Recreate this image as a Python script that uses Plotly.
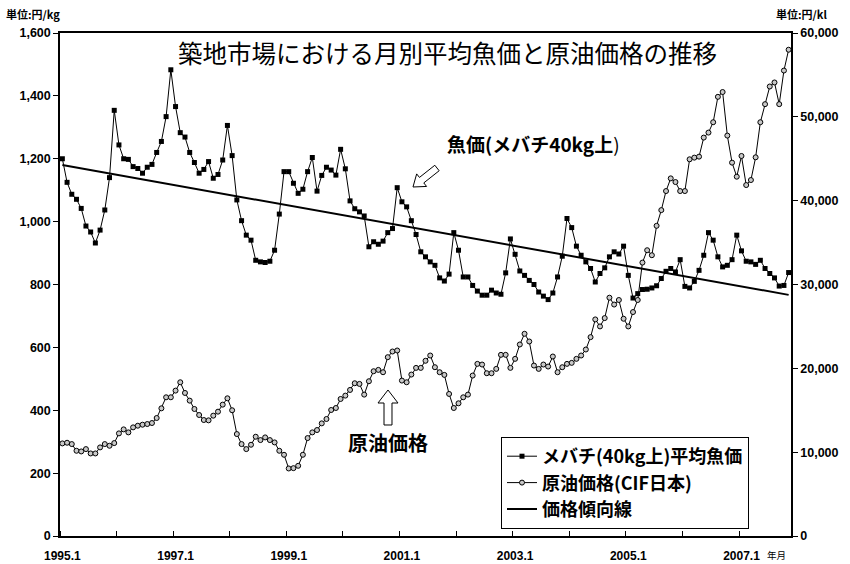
import math
import plotly.graph_objects as go

# ---------------- data ----------------
months = [f"{y}.{m}" for y in range(1995, 2008) for m in range(1, 13)][:155]  # 1995.1 .. 2007.11

fish_price = [
    1200, 1125, 1087, 1071, 1042, 986, 967, 932, 973, 1037, 1140, 1354,      # 1995
    1244, 1200, 1198, 1175, 1169, 1154, 1173, 1182, 1220, 1255, 1334, 1483,   # 1996
    1366, 1283, 1269, 1220, 1188, 1154, 1166, 1191, 1138, 1150, 1196, 1306,   # 1997
    1210, 1069, 1003, 957, 941, 877, 872, 870, 874, 909, 1024, 1159,          # 1998
    1159, 1122, 1090, 1103, 1159, 1204, 1097, 1147, 1173, 1164, 1148, 1230,   # 1999
    1168, 1066, 1041, 1031, 1018, 920, 936, 928, 938, 965, 978, 1108,         # 2000
    1063, 1047, 1003, 959, 904, 888, 872, 861, 821, 811, 833, 965,            # 2001
    909, 824, 824, 797, 779, 766, 766, 782, 773, 769, 837, 945,               # 2002
    896, 843, 829, 813, 800, 776, 763, 752, 773, 824, 890, 1010,              # 2003
    981, 922, 893, 872, 851, 808, 835, 853, 888, 904, 897, 922,               # 2004
    829, 757, 771, 784, 785, 789, 796, 819, 842, 851, 840, 879,               # 2005
    794, 789, 810, 845, 893, 965, 941, 888, 856, 861, 879, 957,               # 2006
    907, 874, 872, 864, 877, 851, 835, 821, 795, 797, 838,                    # 2007
]

oil_price = [
    11044, 11124, 10964, 10167, 10087, 10366, 9848, 9848, 10566, 10964, 10765, 11084,
    12240, 12718, 12360, 12958, 13157, 13277, 13356, 13476, 14074, 15230, 16546, 16546,
    17343, 18340, 17064, 16147, 15151, 14433, 13835, 13795, 14353, 14832, 15669, 16426,
    15000, 12160, 10964, 10366, 10884, 11841, 11443, 11762, 11443, 11164, 10167, 9689,
    8054, 8094, 8373, 9689, 11682, 12360, 12639, 13436, 13955, 15031, 15270, 16347,
    16745, 17423, 18220, 18141, 16865, 18460, 19656, 19815, 19536, 21330, 22008, 22128,
    18539, 18340, 19257, 20054, 20054, 20900, 21530, 20134, 19536, 19217, 16945, 15270,
    15828, 16546, 16865, 19138, 20533, 20453, 19417, 19417, 19935, 21610, 21610, 20055,
    21131, 22845, 24121, 23204, 20333, 19935, 20453, 20214, 21410, 19536, 20134, 20533,
    20652, 21131, 21530, 22247, 23722, 25835, 24999, 25995, 28427, 27610, 28150, 25915,
    24999, 26712, 28150, 32614, 34089, 33491, 37000, 38873, 41146, 42661, 42222, 41146,
    41146, 44933, 45132, 45252, 47524, 48122, 49358, 52385, 52960, 47764, 44535, 42860,
    45332, 41863, 42461, 45172, 49358, 51511, 53620, 54100, 51511, 55520, 58006,
]

trend_months = ["1995.1", "2007.11"]
trend_values = [1180, 767]

tick_labels = ["1995.1", "1997.1", "1999.1", "2001.1", "2003.1", "2005.1", "2007.1"]

# ---------------- figure ----------------
idx = list(range(len(months)))
trend_idx = [months.index(m) for m in trend_months]
tick_idx = [months.index(t) for t in tick_labels]
year_bounds = [i - 0.5 for i in range(0, len(months), 12)]

W, H = 850, 564
L, R, T, B = 60, 59, 33, 28
PW, PH = W - L - R, H - T - B

FONT = "Liberation Sans, Arial, Noto Sans CJK JP, sans-serif"
JFONT = "Noto Sans CJK JP, Liberation Sans, sans-serif"

fig = go.Figure()
fig.add_trace(go.Scatter(
    x=idx, y=fish_price, mode="lines+markers", name="メバチ(40kg上)平均魚価",
    line=dict(color="black", width=1),
    marker=dict(symbol="square", size=5, color="black"),
))
fig.add_trace(go.Scatter(
    x=idx, y=oil_price, yaxis="y2", mode="lines+markers", name="原油価格(CIF日本)",
    line=dict(color="black", width=1),
    marker=dict(symbol="circle", size=5, color="#c8c8c8", line=dict(color="black", width=1)),
))
fig.add_trace(go.Scatter(
    x=trend_idx, y=trend_values, mode="lines", name="価格傾向線",
    line=dict(color="black", width=2),
))


def P(x, y):
    return (x - L) / PW, (H - B - y) / PH


def path(pts):
    s = ""
    for k, (x, y) in enumerate(pts):
        px, py = P(x, y)
        s += ("M" if k == 0 else "L") + f"{px:.5f},{py:.5f} "
    return s + "Z"


# hollow arrow pointing down-left (fish label)
tx, ty = 437, 168
ex, ey = 413, 187
ln = math.hypot(ex - tx, ey - ty)
ux, uy = (ex - tx) / ln, (ey - ty) / ln
nx, ny = -uy, ux
bx, by = ex - 11 * ux, ey - 11 * uy
sw, hw = 3.5, 8
arrow1 = [
    (tx + sw * nx, ty + sw * ny), (bx + sw * nx, by + sw * ny), (bx + hw * nx, by + hw * ny),
    (ex, ey), (bx - hw * nx, by - hw * ny), (bx - sw * nx, by - sw * ny), (tx - sw * nx, ty - sw * ny),
]
arrow2 = [(384, 425), (384, 403), (378, 403), (388, 390), (398, 403), (392, 403), (392, 425)]

shapes = [
    dict(type="path", xref="paper", yref="paper", path=path(arrow1),
         fillcolor="white", line=dict(color="black", width=1)),
    dict(type="path", xref="paper", yref="paper", path=path(arrow2),
         fillcolor="white", line=dict(color="black", width=1)),
]

annotations = [
    dict(text="築地市場における月別平均魚価と原油価格の推移", x=P(447, 0)[0], y=P(0, 52)[1],
         xref="paper", yref="paper", showarrow=False, xanchor="center", yanchor="middle",
         font=dict(family=JFONT, size=24.5, color="black")),
    dict(text="<b>魚価(メバチ40kg上</b>)", x=P(533, 0)[0], y=P(0, 143)[1],
         xref="paper", yref="paper", showarrow=False, xanchor="center", yanchor="middle",
         font=dict(family=JFONT, size=19, color="black")),
    dict(text="<b>原油価格</b>", x=P(388, 0)[0], y=P(0, 442)[1],
         xref="paper", yref="paper", showarrow=False, xanchor="center", yanchor="middle",
         font=dict(family=JFONT, size=20, color="black")),
    dict(text="<b>単位:円/kg</b>", x=P(4, 0)[0], y=P(0, 14)[1],
         xref="paper", yref="paper", showarrow=False, xanchor="left", yanchor="middle",
         font=dict(family=JFONT, size=11, color="black")),
    dict(text="<b>単位:円/kl</b>", x=P(774, 0)[0], y=P(0, 14)[1],
         xref="paper", yref="paper", showarrow=False, xanchor="left", yanchor="middle",
         font=dict(family=JFONT, size=11, color="black")),
    dict(text="年月", x=P(765, 0)[0], y=P(0, 555)[1],
         xref="paper", yref="paper", showarrow=False, xanchor="left", yanchor="middle",
         font=dict(family=JFONT, size=9.5, color="black")),
]

fig.update_layout(
    template="none",
    width=W, height=H, autosize=False,
    margin=dict(l=L, r=R, t=T, b=B, pad=0),
    paper_bgcolor="white", plot_bgcolor="white",
    font=dict(family=FONT, color="black"),
    showlegend=True,
    legend=dict(
        x=P(501, 0)[0], y=P(0, 437)[1], xanchor="left", yanchor="top",
        bgcolor="white", bordercolor="black", borderwidth=1,
        font=dict(family=JFONT, size=18, color="black", weight="bold"),
        itemwidth=30, tracegroupgap=0,
    ),
    xaxis=dict(
        automargin=False,
        range=[-0.5, len(months) - 0.5],
        tickmode="array", tickvals=tick_idx, ticktext=tick_labels,
        ticks="", showgrid=False, zeroline=False,
        showline=True, linecolor="black", linewidth=1.5, mirror=True,
        tickfont=dict(family=FONT, size=12, color="black", weight="bold"),
        ticklabelstandoff=8,
        minor=dict(tickmode="array", tickvals=year_bounds, ticks="inside",
                   ticklen=5, tickcolor="black", tickwidth=1, showgrid=False),
    ),
    yaxis=dict(
        automargin=False,
        range=[0, 1600], tickmode="linear", tick0=0, dtick=200, tickformat=",",
        ticks="outside", ticklen=5, tickcolor="black",
        showgrid=False, zeroline=False, showline=True, linecolor="black", linewidth=1.5,
        tickfont=dict(family=FONT, size=12.5, color="black", weight="bold"),
    ),
    yaxis2=dict(
        automargin=False,
        range=[0, 60000], tickmode="linear", tick0=0, dtick=10000, tickformat=",",
        overlaying="y", side="right",
        ticks="outside", ticklen=5, tickcolor="black",
        showgrid=False, zeroline=False, showline=True, linecolor="black", linewidth=1.5,
        tickfont=dict(family=FONT, size=12.5, color="black", weight="bold"),
    ),
    shapes=shapes,
    annotations=annotations,
)

fig.write_html("out.html", config={"displayModeBar": False},
               post_script="document.body.style.margin='0';")
